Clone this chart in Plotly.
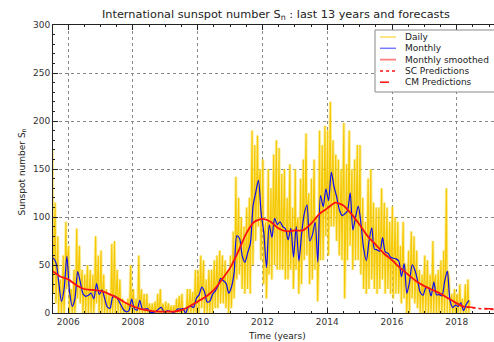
import plotly.graph_objects as go
import pandas as pd

# ---------------- data ----------------
MONTH_START = "2005-06"
MONTH_END = "2018-05"

MONTHLY = [
    56.6, 57.0, 52.0, 31.6, 12.1, 25.7, 58.9,
    21.9, 7.0, 15.1, 43.1, 31.9, 19.9, 17.4, 18.4, 20.6, 15.0, 30.6, 19.4,
    24.0, 15.3, 6.4, 4.9, 16.7, 17.3, 13.9, 8.6, 3.4, 1.3, 2.4, 14.4,
    4.7, 3.0, 13.3, 4.1, 4.1, 4.4, 0.7, 0.7, 1.6, 4.1, 5.9, 1.1,
    2.1, 2.0, 1.0, 1.1, 4.1, 4.1, 4.6, 0.0, 6.1, 6.9, 5.9, 15.4,
    18.9, 26.9, 22.0, 11.4, 12.4, 19.4, 23.0, 28.0, 36.0, 33.6, 30.9, 20.7,
    27.1, 42.0, 80.3, 77.7, 59.4, 52.9, 62.7, 72.3, 111.4, 125.7, 138.1, 104.3,
    83.3, 47.3, 91.7, 78.9, 98.6, 92.1, 95.0, 90.0, 87.7, 76.1, 88.3, 58.3,
    89.9, 54.4, 82.7, 103.4, 112.4, 75.0, 81.4, 94.3, 52.9, 122.3, 110.9, 129.0,
    117.1, 146.9, 131.7, 121.0, 107.4, 101.4, 103.4, 106.6, 125.1, 86.6, 100.1, 111.4,
    93.0, 66.7, 54.5, 75.3, 88.8, 66.5, 65.8, 64.4, 78.6, 63.6, 62.2, 58.0,
    57.0, 56.4, 54.1, 37.9, 51.5, 20.5, 32.4, 50.2, 44.6, 33.4, 21.4, 18.5,
    26.1, 26.4, 17.7, 32.3, 18.9, 19.2, 17.8, 32.6, 43.7, 13.2, 5.7, 8.2,
    6.8, 10.7, 2.5, 8.9, 13.1,
]

DAILY_MAX = [
    95, 170, 115, 80, 35, 60, 95,
    70, 25, 45, 88, 70, 45, 40, 50, 45, 40, 80, 60,
    65, 40, 25, 20, 72, 75, 45, 35, 15, 10, 15, 50,
    25, 15, 60, 25, 20, 20, 10, 10, 12, 20, 25, 10,
    12, 10, 8, 8, 15, 18, 20, 3, 25, 25, 22, 45,
    45, 60, 55, 35, 45, 45, 55, 60, 65, 60, 55, 45,
    60, 85, 142, 120, 100, 90, 110, 120, 190, 175, 185, 150,
    160, 95, 150, 130, 165, 180, 172, 145, 150, 120, 155, 110,
    150, 100, 140, 160, 187, 125, 140, 160, 100, 190, 175, 195,
    190, 220, 180, 165, 160, 150, 198, 155, 190, 150, 160, 175,
    175, 120, 95, 140, 150, 115, 110, 110, 130, 115, 110, 95,
    111, 100, 95, 70, 95, 45, 65, 85, 80, 65, 45, 40,
    60, 55, 40, 75, 40, 45, 55, 65, 130, 35, 20, 25,
    20, 30, 15, 30, 35,
]

DAILY_MIN = [
    25, 20, 10, 0, 0, 0, 25,
    0, 0, 0, 15, 10, 0, 0, 0, 0, 0, 10, 0,
    0, 0, 0, 0, 0, 0, 0, 0, 0, 0, 0, 0,
    0, 0, 0, 0, 0, 0, 0, 0, 0, 0, 0, 0,
    0, 0, 0, 0, 0, 0, 0, 0, 0, 0, 0, 0,
    0, 5, 0, 0, 0, 0, 5, 5, 10, 10, 5, 0,
    5, 15, 35, 40, 25, 20, 25, 20, 50, 75, 90, 55,
    30, 15, 40, 35, 50, 45, 45, 45, 35, 35, 45, 25,
    45, 20, 30, 55, 60, 30, 35, 45, 12, 55, 55, 80,
    60, 90, 90, 75, 60, 55, 15, 55, 70, 45, 55, 55,
    40, 25, 20, 25, 35, 25, 20, 25, 35, 20, 25, 20,
    15, 20, 20, 10, 15, 0, 0, 15, 10, 5, 0, 0,
    0, 0, 0, 0, 0, 0, 0, 0, 0, 0, 0, 0,
    0, 0, 0, 0, 0,
]

SMOOTH_T = [2005.5, 2005.75, 2006.0, 2006.25, 2006.5, 2006.75, 2007.0, 2007.25,
            2007.5, 2007.75, 2008.0, 2008.25, 2008.5, 2008.75, 2009.0, 2009.25,
            2009.5, 2009.75, 2010.0, 2010.25, 2010.5, 2010.75, 2011.0, 2011.25,
            2011.5, 2011.75, 2012.0, 2012.25, 2012.5, 2012.75, 2013.0, 2013.25,
            2013.5, 2013.75, 2014.0, 2014.25, 2014.5, 2014.75, 2015.0, 2015.25,
            2015.5, 2015.75, 2016.0, 2016.25, 2016.5, 2016.75, 2017.0, 2017.25,
            2017.5, 2017.75, 2018.0, 2018.25]
SMOOTH_V = [44, 38, 35, 29, 25, 24, 23, 20,
            16, 11, 7, 4, 2.5, 1.5, 1.5, 1.5,
            3, 7, 12, 17, 24, 35, 47, 64,
            83, 95, 98, 95, 88, 85, 86, 86,
            93, 103, 109, 115, 112, 103, 92, 80,
            71, 62, 55, 47, 40, 33, 28, 24,
            20, 15, 10, 6]

SC_T = [2018.30, 2018.5, 2018.75, 2019.0, 2019.25]
SC_V = [6, 5, 4.5, 4, 3.5]
CM_T = [2018.30, 2018.5, 2018.75, 2019.0, 2019.25]
CM_V = [6.5, 5.5, 5, 4.5, 4]

LEGEND_LABELS = ["Daily", "Monthly", "Monthly smoothed", "SC Predictions", "CM Predictions"]

# ---------------- build ----------------
months = pd.period_range(MONTH_START, MONTH_END, freq="M")
m_t = [p.year + (p.month - 0.5) / 12 for p in months]

d_t, d_v = [], []
for p, hi, lo, mv in zip(months, DAILY_MAX, DAILY_MIN, MONTHLY):
    base = p.year + (p.month - 1) / 12
    d_t += [base + 0.15 / 12, base + 0.45 / 12, base + 0.75 / 12]
    d_v += [hi, lo, mv]

FONT = "DejaVu Sans"
YEL, BLU, RED = "#F5C800", "#0C0CF0", "#FF1010"
fig = go.Figure()
fig.add_trace(go.Scatter(x=d_t, y=d_v, mode="lines", name="Daily",
                         line=dict(color="rgba(248,214,40,0.45)", width=3)))
fig.add_trace(go.Scatter(x=d_t, y=d_v, mode="lines", name="Daily",
                         line=dict(color=YEL, width=1.1)))
fig.add_trace(go.Scatter(x=m_t, y=MONTHLY, mode="lines", name="Monthly",
                         line=dict(color=BLU, width=1.2, shape="spline", smoothing=0.8)))
fig.add_trace(go.Scatter(x=SMOOTH_T, y=SMOOTH_V, mode="lines", name="Monthly smoothed",
                         line=dict(color=RED, width=1.8, shape="spline", smoothing=0.6)))
fig.add_trace(go.Scatter(x=SC_T, y=SC_V, mode="lines", name="SC Predictions",
                         line=dict(color=RED, width=1.5, dash="dot")))
fig.add_trace(go.Scatter(x=CM_T, y=CM_V, mode="lines", name="CM Predictions",
                         line=dict(color=RED, width=1.5, dash="dash")))

axis_common = dict(
    showline=True, linecolor="#222", linewidth=1,
    ticks="inside", tickcolor="#222", ticklen=5, tickwidth=1,
    showgrid=True, gridcolor="#888", gridwidth=0.7, griddash="dot",
    zeroline=False, tickfont=dict(family=FONT, size=9, color="#333"),
)

fig.update_xaxes(range=[2005.53, 2019.15], tickmode="linear", tick0=2006, dtick=2,
                 tickformat="d", mirror="ticks",
                 minor=dict(dtick=0.5, ticks="inside", ticklen=2, tickcolor="#222", showgrid=False),
                 **axis_common)
fig.update_yaxes(range=[0, 300], tickmode="linear", tick0=0, dtick=50, mirror=False,
                 minor=dict(dtick=10, ticks="inside", ticklen=2, tickcolor="#222", showgrid=False),
                 **axis_common)

# plot area in pixels: x 53..494, y 25..313
L, R, T, B = 53, 494, 25, 313
def px(x):
    return (x - L) / (R - L)
def py(y):
    return (B - y) / (B - T)

shapes = [dict(type="rect", xref="paper", yref="paper",
               x0=px(375), x1=px(505), y0=py(92), y1=py(30),
               line=dict(color="#888", width=1), fillcolor="white", layer="above")]
annotations = []
leg_styles = [("#F8DC60", "solid", 1.5), ("#7878FF", "solid", 1.5), ("#FF8080", "solid", 1.8),
              (RED, "dot", 1.5), (RED, "dash", 1.5)]
for i, (lab, (col, dash, w)) in enumerate(zip(LEGEND_LABELS, leg_styles)):
    yc = 37 + i * 11.3
    shapes.append(dict(type="line", xref="paper", yref="paper",
                       x0=px(380), x1=px(396), y0=py(yc), y1=py(yc),
                       line=dict(color=col, width=w, dash=dash), layer="above"))
    annotations.append(dict(text=lab, xref="paper", yref="paper", x=px(403), y=py(yc),
                            xanchor="left", yanchor="middle", showarrow=False,
                            font=dict(family=FONT, size=9, color="#222")))

annotations += [
    dict(text="International sunspot number S<sub>n</sub> : last 13 years and forecasts",
         xref="paper", yref="paper", x=px(276), y=1.0, yshift=1,
         xanchor="center", yanchor="bottom", showarrow=False,
         font=dict(family=FONT, size=11.3, color="#222")),
    dict(text="Time (years)", xref="paper", yref="paper", x=px(277), y=0,
         yshift=-16, xanchor="center", yanchor="top", showarrow=False,
         font=dict(family=FONT, size=9, color="#222")),
    dict(text="Sunspot number S<sub>n</sub>", xref="paper", yref="paper", x=0, y=py(172),
         xshift=-24, xanchor="right", yanchor="middle", textangle=-90, showarrow=False,
         font=dict(family=FONT, size=9, color="#222")),
]

fig.update_layout(
    width=494, height=342,
    margin=dict(l=L, r=0, t=T, b=342 - B, autoexpand=False),
    plot_bgcolor="white", paper_bgcolor="white",
    font=dict(family=FONT, size=9, color="#333"),
    showlegend=False,
    shapes=shapes,
    annotations=annotations,
)

fig.write_html("out.html")
